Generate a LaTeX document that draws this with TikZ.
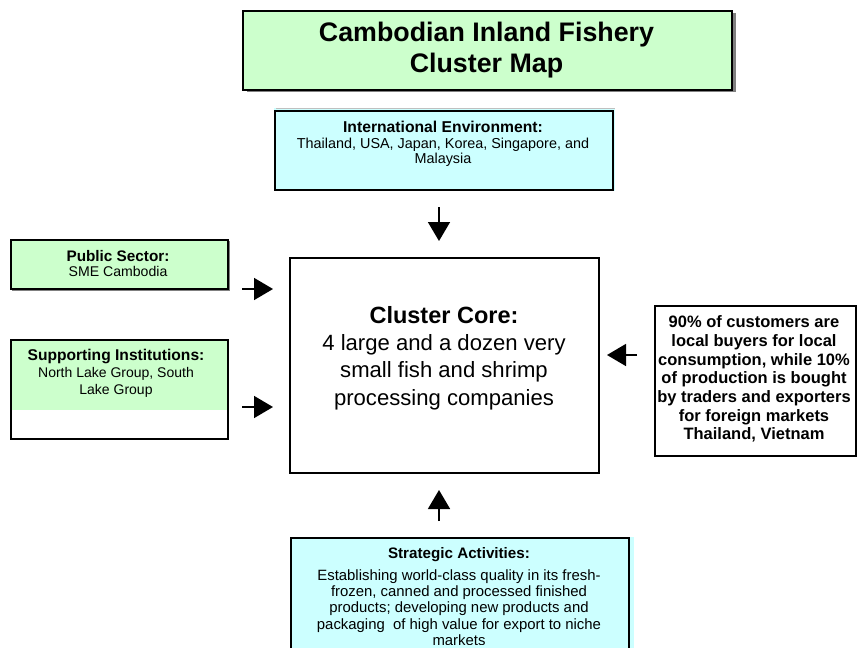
\documentclass[tikz,border=0pt]{standalone}
\usepackage{fontspec}
\setmainfont{Liberation Sans}
\usetikzlibrary{arrows.meta}

\definecolor{mintfill}{HTML}{CCFFCC}
\definecolor{aquafill}{HTML}{CCFFFF}
\definecolor{shadowgray}{HTML}{808080}

\newcommand{\fsz}[2]{\fontsize{#1pt}{#2pt}\selectfont}

\tikzset{
  boxline/.style={draw=black, line width=1.7pt},
  label/.style={align=center, inner sep=0pt, text=black},
  pusharrow/.style={line width=1.6pt, -{Triangle[width=22pt,length=19pt]}},
}

\begin{document}
\begin{tikzpicture}[x=1pt, y=-1pt]
  \useasboundingbox (0,0) rectangle (857,648);

  % ---- title ----
  \fill[shadowgray] (247,13) rectangle (736,92);
  \node[boxline, fill=mintfill, anchor=north west, minimum width=489pt, minimum height=79pt, inner sep=0pt]
    (title) at (242,10) {};
  \node[label, font=\bfseries\fsz{26.8}{31}] (titletext) at (486.5,50)
    {Cambodian Inland Fishery\\Cluster Map};

  % ---- international environment ----
  \fill[aquafill] (274,108) rectangle (615,191);
  \draw[gray!50, line width=0.6pt] (276,108.3) -- (615,108.3);
  \node[boxline, anchor=north west, minimum width=338pt, minimum height=79pt, inner sep=0pt]
    (intl) at (274,110) {};
  \node[label, font=\fsz{14.4}{15.5}] (intltext) at (443,144)
    {{\bfseries\fsz{15.7}{15.5}International Environment:}\\
     Thailand, USA, Japan, Korea, Singapore, and\\Malaysia};

  % ---- public sector ----
  \fill[shadowgray] (12,241) rectangle (229.5,290.5);
  \node[boxline, fill=mintfill, anchor=north west, minimum width=217pt, minimum height=49pt, inner sep=0pt]
    (public) at (10,239) {};
  \node[label, font=\fsz{14.1}{15}] (publictext) at (118,264)
    {{\bfseries\fsz{15.3}{15}Public Sector:}\\SME Cambodia};

  % ---- supporting institutions ----
  \fill[mintfill] (10,339) rectangle (227,410);
  \node[boxline, anchor=north west, minimum width=217pt, minimum height=99pt, inner sep=0pt]
    (support) at (10,339) {};
  \node[label, font=\fsz{14.0}{17}] (supporttext) at (116,373)
    {{\bfseries\fsz{15.6}{17}Supporting Institutions:}\\North Lake Group, South\\Lake Group};

  % ---- cluster core ----
  \node[boxline, fill=white, anchor=north west, minimum width=309pt, minimum height=215pt, inner sep=0pt]
    (core) at (289,257) {};
  \node[label, font=\fsz{22.1}{27.3}] (coretext) at (444,358)
    {{\bfseries\fsz{23.5}{27.3}Cluster Core:}\\4 large and a dozen very\\small fish and shrimp\\processing companies};

  % ---- customers / demand ----
  \node[boxline, fill=white, anchor=north west, minimum width=201pt, minimum height=150pt, inner sep=0pt]
    (demand) at (654,305) {};
  \node[label, font=\bfseries\fsz{16.5}{18.7}] (demandtext) at (754,379)
    {90\% of customers are\\local buyers for local\\consumption, while 10\%\\of production is bought\\by traders and exporters\\for foreign markets\\Thailand, Vietnam};

  % ---- strategic activities ----
  \fill[aquafill] (290,537) rectangle (634,680);
  \node[boxline, anchor=north west, minimum width=338pt, minimum height=140pt, inner sep=0pt]
    (strategy) at (290,537) {};
  \begin{scope}
    \clip (291,538) rectangle (627,644);
    \node[label, font=\bfseries\fsz{15.2}{16.6}, anchor=base] (strategyhead) at (459,558)
      {Strategic Activities:};
    \node[label, font=\fsz{14.9}{16.3}, anchor=north] (strategytext) at (459,569.2)
      {Establishing world-class quality in its fresh-\\
       frozen, canned and processed finished\\
       products; developing new products and\\
       packaging\ \ of high value for export to niche\\
       markets};
  \end{scope}

  % ---- arrows pointing at the core ----
  \coordinate (topfrom) at (439,207);
  \coordinate (topto)   at (439,241);
  \coordinate (lfromA)  at (242,289);
  \coordinate (ltoA)    at (273,289);
  \coordinate (lfromB)  at (242,407);
  \coordinate (ltoB)    at (273,407);
  \coordinate (rfrom)   at (637,355);
  \coordinate (rto)     at (607,355);
  \coordinate (bfrom)   at (439,521);
  \coordinate (bto)     at (439,490);

  \draw[pusharrow] (topfrom) -- (topto);
  \draw[pusharrow] (lfromA) -- (ltoA);
  \draw[pusharrow] (lfromB) -- (ltoB);
  \draw[pusharrow] (rfrom) -- (rto);
  \draw[pusharrow] (bfrom) -- (bto);
\end{tikzpicture}
\end{document}
